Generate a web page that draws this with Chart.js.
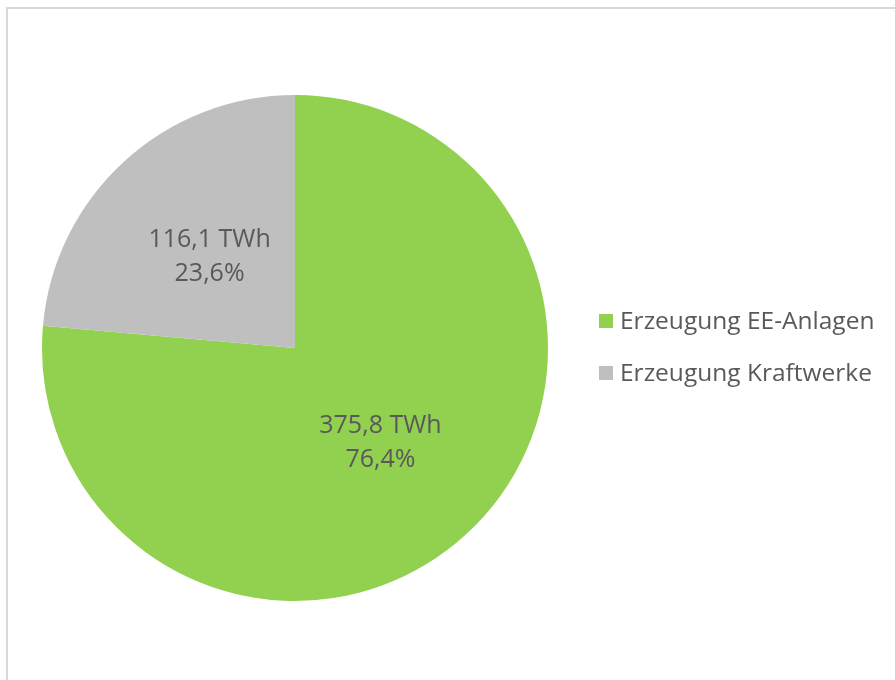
<!DOCTYPE html>
<html lang="de">
<head>
<meta charset="UTF-8">
<title>Erzeugung</title>
<script src="https://cdn.jsdelivr.net/npm/chart.js"></script>
<style>
  body { margin: 0; background: #fff; }
  #wrap { position: relative; width: 895px; height: 680px; }
</style>
</head>
<body>
<div id="wrap"><canvas id="grafico" width="895" height="680"></canvas></div>
<script>
  const kategorien = ["Erzeugung EE-Anlagen", "Erzeugung Kraftwerke"];
  const werteTWh = [375.8, 116.1];
  const anteile = ["76,4%", "23,6%"];
  const farben = ["#92D050", "#BFBFBF"];

  const textFarbe = "#595959";
  const schrift = "'Open Sans', sans-serif";

  // Rahmen links/oben wie im Original
  const rahmen = {
    id: 'rahmen',
    beforeDraw(chart) {
      const c = chart.ctx;
      c.save();
      c.strokeStyle = "#D9D9D9";
      c.lineWidth = 2;
      c.beginPath();
      c.moveTo(7, 680);
      c.lineTo(7, 8);
      c.lineTo(895, 8);
      c.stroke();
      c.restore();
    }
  };

  // Beschriftung in den Segmenten
  const werteLabels = {
    id: 'werteLabels',
    afterDatasetsDraw(chart) {
      const c = chart.ctx;
      const meta = chart.getDatasetMeta(0);
      c.save();
      c.fillStyle = textFarbe;
      c.font = "25px " + schrift;
      c.textAlign = "center";
      c.textBaseline = "middle";
      meta.data.forEach((arc, i) => {
        const p = arc.tooltipPosition();
        const wert = werteTWh[i].toFixed(1).replace('.', ',') + " TWh";
        c.fillText(wert, p.x, p.y - 15);
        c.fillText(anteile[i], p.x, p.y + 19);
      });
      c.restore();
    }
  };

  // Legende rechts
  const legende = {
    id: 'legende',
    afterDraw(chart) {
      const c = chart.ctx;
      c.save();
      c.font = "24.5px " + schrift;
      c.textBaseline = "middle";
      c.textAlign = "left";
      kategorien.forEach((k, i) => {
        const y = 321 + i * 52;
        c.fillStyle = farben[i];
        c.fillRect(599, y - 7, 14, 14);
        c.fillStyle = textFarbe;
        c.fillText(k, 620, y + 1);
      });
      c.restore();
    }
  };

  new Chart(document.getElementById("grafico"), {
    type: 'pie',
    data: {
      labels: kategorien,
      datasets: [{
        data: werteTWh,
        backgroundColor: farben,
        borderWidth: 0
      }]
    },
    options: {
      responsive: false,
      maintainAspectRatio: false,
      devicePixelRatio: 1,
      animation: false,
      layout: { padding: { left: 42, right: 347, top: 95, bottom: 79 } },
      plugins: {
        legend: { display: false },
        tooltip: { enabled: false }
      }
    },
    plugins: [rahmen, werteLabels, legende]
  });
</script>
</body>
</html>
